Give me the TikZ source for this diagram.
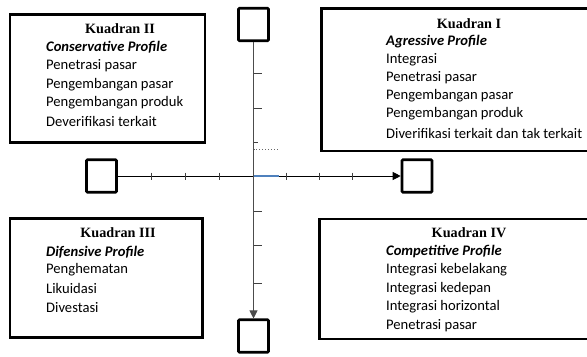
\documentclass[tikz,border=0pt]{standalone}
\usepackage{fontspec}
\setmainfont{Carlito}
\newfontfamily\titlefont{Liberation Serif}
\usetikzlibrary{arrows.meta}
\begin{document}
\begin{tikzpicture}[x=1bp,y=-1bp,
  sq/.style={draw,line width=2.6bp,minimum width=30bp,minimum height=32.5bp,inner sep=0,rounded corners=1bp},
  qbox/.style={draw,line width=2.8bp,inner sep=0,anchor=north west},
  ttl/.style={font=\titlefont\bfseries\fontsize{14.2bp}{17bp}\selectfont,inner sep=0},
  txt/.style={anchor=west,font=\fontsize{14.6bp}{18bp}\selectfont,inner sep=0},
  prof/.style={anchor=west,font=\fontsize{14.6bp}{18bp}\selectfont\bfseries\itshape,inner sep=0},
  axisline/.style={line width=0.9bp,-{Triangle[length=8bp,width=8bp]}},
  tick/.style={line width=0.9bp,draw=black!75}
]
\useasboundingbox (0,0) rectangle (587,356);
\clip (0,0) rectangle (587,356);

% quadrant boxes
\node[qbox,minimum width=195bp,minimum height=128bp] (q2) at (8.5,13) {};
\node[qbox,minimum width=290bp,minimum height=142.5bp] (q1) at (320,7) {};
\node[qbox,minimum width=192.5bp,minimum height=119bp] (q3) at (8.5,217) {};
\node[qbox,minimum width=290bp,minimum height=120bp] (q4) at (318,217.5) {};

% squares
\node[sq] (t) at (253.5,24.5) {};
\node[sq] (l) at (101.5,176) {};
\node[sq] (r) at (417,176) {};
\node[sq] (b) at (253.5,336) {};

% axes
\draw[axisline] (l.east) -- (r.west);
\draw[axisline,draw=black!70] (t.south) -- (b.north);

% ticks on horizontal axis
\foreach \x in {151,185,219,286,319,352}
  \draw[tick] (\x,172.5) -- (\x,179.5);
% ticks on vertical axis
\foreach \y in {73,108,211,245,283}
  \draw[tick] (253.5,\y) -- (262,\y);
\draw[tick] (253.5,142) -- (258,142);
\draw[line width=1bp,draw=black!60,dotted] (253.5,149) -- (279,149);
\draw[line width=1.1bp,draw={rgb,255:red,79;green,129;blue,189}] (253.5,176) -- (279,176);

% Kuadran II
\node[ttl] (q2t) at (120,29) {Kuadran II};
\node[prof] (q2p) at (46,47.5) {Conservative Profile};
\node[txt] (q2a) at (46,66) {Penetrasi pasar};
\node[txt] (q2b) at (46,84.5) {Pengembangan pasar};
\node[txt] (q2c) at (46,103) {Pengembangan produk};
\node[txt] (q2d) at (46,121.5) {Deverifikasi terkait};

% Kuadran I
\node[ttl] (q1t) at (469,24) {Kuadran I};
\node[prof] (q1p) at (386,42) {Agressive Profile};
\node[txt] (q1a) at (386,59.5) {Integrasi};
\node[txt] (q1b) at (386,77.5) {Penetrasi pasar};
\node[txt] (q1c) at (386,96) {Pengembangan pasar};
\node[txt] (q1d) at (386,114) {Pengembangan produk};
\node[txt] (q1e) at (386,133) {Diverifikasi terkait dan tak terkait};

% Kuadran III
\node[ttl] (q3t) at (118,233) {Kuadran III};
\node[prof] (q3p) at (46,252) {Difensive Profile};
\node[txt] (q3a) at (46,270) {Penghematan};
\node[txt] (q3b) at (46,288.5) {Likuidasi};
\node[txt] (q3c) at (46,307.5) {Divestasi};

% Kuadran IV
\node[ttl] (q4t) at (469,233) {Kuadran IV};
\node[prof] (q4p) at (386,252) {Competitive Profile};
\node[txt] (q4a) at (386,270) {Integrasi kebelakang};
\node[txt] (q4b) at (386,288.5) {Integrasi kedepan};
\node[txt] (q4c) at (386,307) {Integrasi horizontal};
\node[txt] (q4d) at (386,326) {Penetrasi pasar};
\end{tikzpicture}
\end{document}
